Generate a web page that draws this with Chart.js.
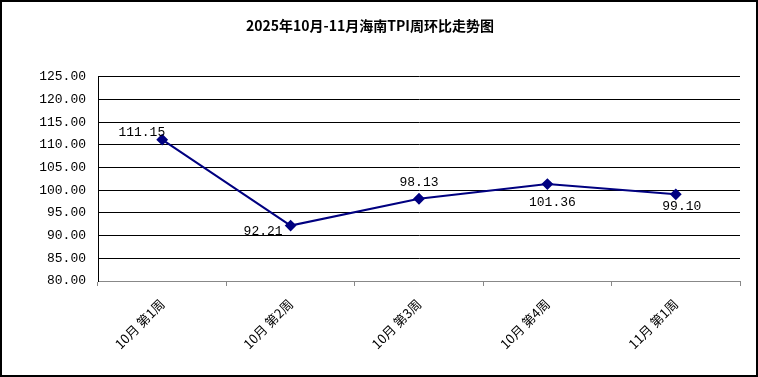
<!DOCTYPE html>
<html>
<head>
<meta charset="utf-8">
<script src="https://cdn.jsdelivr.net/npm/chart.js@4"></script>
<style>
  html, body { margin: 0; padding: 0; background: #fff; }
  #wrap { width: 758px; height: 377px; }
</style>
</head>
<body>
<div id="wrap"><canvas id="myChart" width="758" height="377"></canvas></div>
<script>
// datos del grafico
const categories = ['10月 第1周', '10月 第2周', '10月 第3周', '10月 第4周', '11月 第1周'];
const tpiValues = [111.15, 92.21, 98.13, 101.36, 99.10];
const yTicks = [80, 85, 90, 95, 100, 105, 110, 115, 120, 125];

// desplazamiento de cada etiqueta respecto a su punto [dx, dy, align]
const labelPos = [
  [3, -7, 'right'],
  [-8, 6, 'right'],
  [0, -16, 'center'],
  [5, 18, 'center'],
  [6, 12, 'center']
];

const monoFont = '"Liberation Mono", "DejaVu Sans Mono", monospace';

// marco exterior + etiquetas de valores
const extras = {
  id: 'extras',
  afterDatasetsDraw(chart) {
    const ctx = chart.ctx;
    const meta = chart.getDatasetMeta(0);
    ctx.save();
    ctx.font = '13px ' + monoFont;
    ctx.fillStyle = '#000';
    ctx.textBaseline = 'middle';
    meta.data.forEach((pt, i) => {
      const p = labelPos[i];
      ctx.textAlign = p[2];
      ctx.fillText(tpiValues[i].toFixed(2), pt.x + p[0], pt.y + p[1]);
    });
    ctx.restore();
  },
  afterDraw(chart) {
    const ctx = chart.ctx;
    ctx.save();
    ctx.strokeStyle = '#000';
    ctx.lineWidth = 2;
    ctx.strokeRect(1, 1, 756, 375);
    ctx.restore();
  }
};

const data = {
  labels: categories,
  datasets: [{
    data: tpiValues,
    borderColor: '#000080',
    backgroundColor: '#000080',
    borderWidth: 2,
    pointStyle: 'rectRot',
    pointRadius: 4.5,
    pointHoverRadius: 4.5,
    tension: 0
  }]
};

const options = {
  responsive: false,
  animation: false,
  layout: { padding: { left: 0, right: 18, top: 0, bottom: 2 } },
  plugins: {
    legend: { display: false },
    tooltip: { enabled: false },
    title: {
      display: true,
      text: '2025年10月-11月海南TPI周环比走势图',
      color: '#000',
      font: { family: '"Noto Sans CJK SC", serif', size: 14, weight: 'bold' },
      padding: { top: 17, bottom: 43 }
    }
  },
  scales: {
    x: {
      offset: true,
      grid: {
        offset: true,
        drawOnChartArea: false,
        color: '#888',
        tickLength: 5
      },
      border: { color: '#888', width: 1 },
      ticks: {
        color: '#000',
        maxRotation: 45,
        minRotation: 45,
        padding: 10,
        font: { family: '"Noto Sans CJK SC", serif', size: 13 }
      },
      afterFit(scale) { scale.height = 94; }
    },
    y: {
      min: 80,
      max: 125,
      afterBuildTicks(scale) { scale.ticks = yTicks.map(v => ({ value: v })); },
      grid: {
        color: ctx => ctx.tick && ctx.tick.value === 80 ? '#888' : '#000',
        drawTicks: false
      },
      border: { color: '#000', width: 1 },
      ticks: {
        color: '#000',
        padding: 12,
        font: { family: monoFont, size: 13 },
        callback: v => Number(v).toFixed(2)
      },
      afterFit(scale) { scale.width = 98; }
    }
  }
};

const config = { type: 'line', data, options, plugins: [extras] };

const myChart = new Chart(document.getElementById('myChart').getContext('2d'), config);
</script>
</body>
</html>
